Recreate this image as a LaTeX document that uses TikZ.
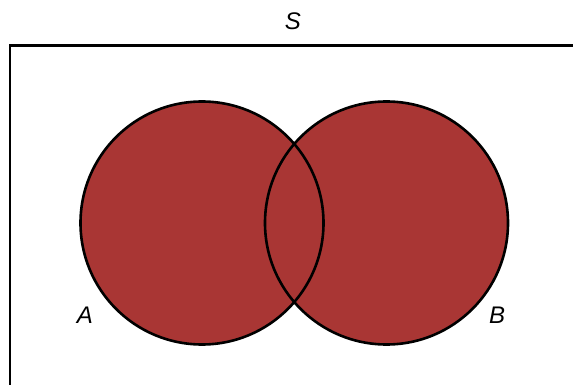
\documentclass[tikz,border=0pt]{standalone}
\usepackage{fontspec}
\setmainfont{Liberation Sans}
\definecolor{setred}{HTML}{A93634}
\begin{document}
\begin{tikzpicture}[x=1pt,y=-1pt,
  setcircle/.style={draw=black,line width=2.6pt,fill=setred},
  lbl/.style={font=\fontsize{24}{26}\selectfont\itshape,inner sep=0pt}]
\useasboundingbox (0,0) rectangle (573,385);
\draw[line width=2.6pt] (10,392) -- (10,45.5) -- (580,45.5);
\fill[setred] (202,223) circle (121.5);
\fill[setred] (386.5,223) circle (121.5);
\draw[line width=2.6pt] (202,223) circle (121.5);
\draw[line width=2.6pt] (386.5,223) circle (121.5);
\node[lbl] (S) at (293,21) {S};
\node[lbl] (A) at (85,315) {A};
\node[lbl] (B) at (497,315) {B};
\end{tikzpicture}
\end{document}
